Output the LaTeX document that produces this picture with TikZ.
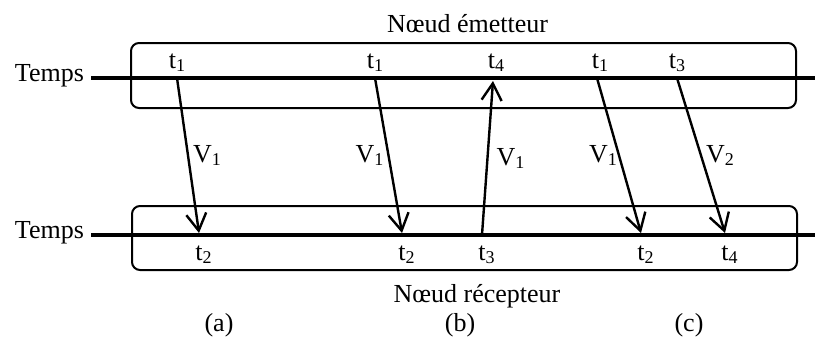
\documentclass[tikz,border=0pt]{standalone}
\usepackage{fontspec}
\setmainfont{Liberation Serif}
\usetikzlibrary{arrows.meta,positioning,calc}
\newcommand{\sym}[2]{#1\raisebox{-0.25ex}{\fontsize{9}{9}\selectfont #2}}

\begin{document}
\begin{tikzpicture}[x=0.5pt,y=-0.5pt,font=\fontsize{13}{15.6}\selectfont,
  box/.style={draw,line width=1pt,rounded corners=4pt,minimum width=332.5pt},
  timeline/.style={line width=2pt},
  msg/.style={line width=1.2pt,-{Straight Barb[length=8.5pt,width=10pt]}},
  tlab/.style={inner sep=1pt},
  vlab/.style={inner sep=2pt,pos=0.5}]
  \useasboundingbox (0,0) rectangle (815,338);
  % the two nodes
  \node[box,minimum height=32.5pt] (emet) at (463.5,75.5) {};
  \node[box,minimum height=32pt] (recep) at (464.5,238) {};
  \node[anchor=base] (temet) at (467.5,32) {Nœud émetteur};
  \node[anchor=base] (trecep) at (477,302) {Nœud récepteur};
  % time lines
  \coordinate (s0) at (91,78); \coordinate (s1) at (815,78);
  \coordinate (r0) at (91,235); \coordinate (r1) at (815,235);
  \draw[timeline] (s0) -- (s1); \draw[timeline] (r0) -- (r1);
  \node[anchor=east,yshift=1pt] (tps1) at (s0) {Temps};
  \node[anchor=east,yshift=1pt] (tps2) at (r0) {Temps};
  % (a)
  \coordinate (a1) at (177,78); \coordinate (a2) at (199,233);
  \draw[msg] (a1) -- node[vlab,right] (va) {\sym V1} (a2);
  \node[tlab,above=2pt] (la1) at (a1) {\sym t1};
  \node[tlab,below=5pt,xshift=2.25pt] (la2) at (a2) {\sym t2};
  % (b)
  \coordinate (b1) at (375,78); \coordinate (b2) at (402,233);
  \coordinate (b3) at (482,235); \coordinate (b4) at (493,81);
  \draw[msg] (b1) -- node[vlab,left] (vb1) {\sym V1} (b2);
  \draw[msg] (b3) -- node[vlab,right,xshift=2pt] (vb2) {\sym V1} (b4);
  \node[tlab,above=2pt] (lb1) at (b1) {\sym t1};
  \node[tlab,below=5pt,xshift=2.25pt] (lb2) at (b2) {\sym t2};
  \node[tlab,below=5pt,xshift=2.25pt] (lb3) at (482,233) {\sym t3};
  \node[tlab,above=2pt,xshift=1.5pt] (lb4) at (493,78) {\sym t4};
  % (c)
  \coordinate (c1) at (597,78); \coordinate (c2) at (641,233);
  \coordinate (c3) at (677,78); \coordinate (c4) at (725,233);
  \draw[msg] (c1) -- node[vlab,left,inner sep=0.5pt] (vc1) {\sym V1} (c2);
  \draw[msg] (c3) -- node[vlab,right] (vc2) {\sym V2} (c4);
  \node[tlab,above=2pt,xshift=1.5pt] (lc1) at (c1) {\sym t1};
  \node[tlab,above=2pt] (lc3) at (c3) {\sym t3};
  \node[tlab,below=5pt,xshift=2.25pt] (lc2) at (c2) {\sym t2};
  \node[tlab,below=5pt,xshift=2.25pt] (lc4) at (c4) {\sym t4};
  % captions
  \node[anchor=base] (capa) at (219,331) {(a)};
  \node[anchor=base] (capb) at (460,331) {(b)};
  \node[anchor=base] (capc) at (689,331) {(c)};
\end{tikzpicture}
\end{document}
